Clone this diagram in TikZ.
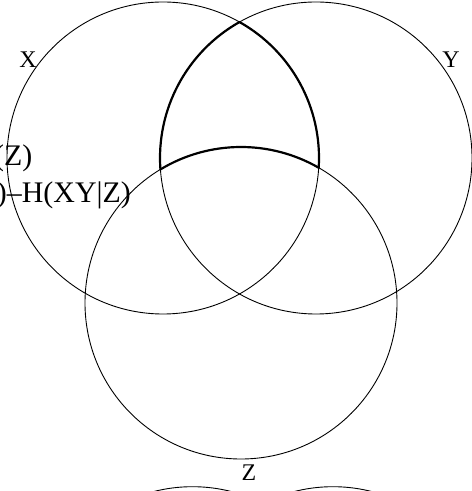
\documentclass[tikz,border=0pt]{standalone}
\usepackage{fontspec}
\setmainfont{Liberation Serif}
\usetikzlibrary{calc}
\tikzset{
  vcircle/.style={line width=0.9pt, black},
  vbold/.style  ={line width=2.2pt, black, line cap=round, line join=round},
  vlabel/.style ={font=\fontsize{24}{24}\selectfont, inner sep=0pt},
  vterm/.style  ={font=\fontsize{30}{30}\selectfont, inner sep=0pt, anchor=base east},
}

\begin{document}
\begin{tikzpicture}[x=1bp,y=1bp]
  \useasboundingbox (0,0) rectangle (472,491);
  \clip (0,0) rectangle (472,491);

  % ---- centres: X, Y, Z and the two circles cut off below ---------------
  \coordinate (cX) at (163,333);
  \coordinate (cY) at (316,333);
  \coordinate (cZ) at (241,188);
  \coordinate (cU) at (192.5,-151.7);
  \coordinate (cV) at (333,-151.7);

  \foreach \c in {cX,cY,cZ,cU,cV} {
    \draw[vcircle] (\c) circle (156);
  }

  % ---- X and Y outside Z, in bold -----------------------------------------
  \draw[vbold] (cY) ++(119.36:156) arc[start angle=119.36, end angle=184.19, radius=156];
  \draw[vbold] (cX) ++(60.64:156)  arc[start angle=60.64,  end angle=-3.56,  radius=156];
  \draw[vbold] (cZ) ++(121.1:156)  arc[start angle=121.1,  end angle=60.1,   radius=156];

  % ---- labels --------------------------------------------------------------
  \node[vlabel] (lX) at (28,431) {X};
  \node[vlabel] (lY) at (451,431) {Y};
  \node[vlabel] (lZ) at (249,18) {Z};
  \node[vterm] (t1) at (32.5,325) {H(Z)};
  \node[vterm] (t2) at (131,288) {H(Y|Z)–H(XY|Z)};
\end{tikzpicture}
\end{document}
